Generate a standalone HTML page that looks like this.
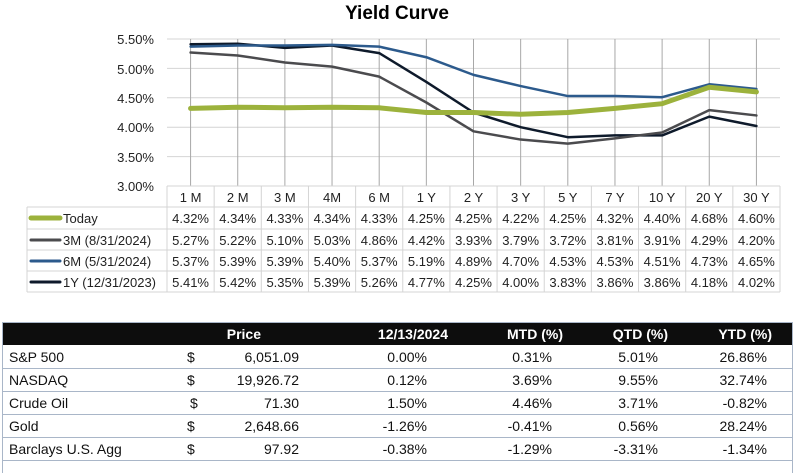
<!DOCTYPE html>
<html><head><meta charset="utf-8"><style>
body{margin:0;width:794px;height:466px;overflow:hidden;background:#fff;font-family:"Liberation Sans",sans-serif;position:relative}
.a{position:absolute;white-space:nowrap}
</style></head><body>
<svg width="794" height="466" style="position:absolute;left:0;top:0" font-family="Liberation Sans, sans-serif">
<text x="397" y="19" text-anchor="middle" font-size="19" font-weight="bold" fill="#000">Yield Curve</text>
<g stroke="#d4d4d4" stroke-width="1">
<line x1="167" x2="780" y1="39" y2="39"/><line x1="167" x2="780" y1="68.4" y2="68.4"/><line x1="167" x2="780" y1="97.8" y2="97.8"/><line x1="167" x2="780" y1="127.2" y2="127.2"/><line x1="167" x2="780" y1="156.6" y2="156.6"/>
</g>
<g fill="#222" font-size="13" text-anchor="end">
<text x="154" y="44">5.50%</text><text x="154" y="74">5.00%</text><text x="154" y="103">4.50%</text><text x="154" y="132">4.00%</text><text x="154" y="162">3.50%</text><text x="154" y="191">3.00%</text>
</g>
<g stroke="#a8a8a8" stroke-width="1" id="vl"></g>
<g id="tbl" stroke="#d4d4d4" stroke-width="1" fill="none"></g>
<g id="ser" fill="none" stroke-linejoin="round" stroke-linecap="round"></g>
<g id="txt" font-size="13" fill="#222"></g>
</svg>
<script>
var cats=["1 M","2 M","3 M","4M","6 M","1 Y","2 Y","3 Y","5 Y","7 Y","10 Y","20 Y","30 Y"];
var S=[["Today","#9cb23c",5,[4.32,4.34,4.33,4.34,4.33,4.25,4.25,4.22,4.25,4.32,4.40,4.68,4.60]],
["3M (8/31/2024)","#4b4b4e",2.5,[5.27,5.22,5.10,5.03,4.86,4.42,3.93,3.79,3.72,3.81,3.91,4.29,4.20]],
["6M (5/31/2024)","#2c5a8c",2.5,[5.37,5.39,5.39,5.40,5.37,5.19,4.89,4.70,4.53,4.53,4.51,4.73,4.65]],
["1Y (12/31/2023)","#0e1a2b",2.5,[5.41,5.42,5.35,5.39,5.26,4.77,4.25,4.00,3.83,3.86,3.86,4.18,4.02]]];
var x0=167,w=(780-167)/13,ns="http://www.w3.org/2000/svg";
function el(p,t,a,tx){var e=document.createElementNS(ns,t);for(var k in a)e.setAttribute(k,a[k]);if(tx)e.textContent=tx;document.getElementById(p).appendChild(e);}
function X(i){return x0+w*(i+.5)}function Y(v){return 39+(5.5-v)*58.8}
for(var i=0;i<13;i++)el("vl","line",{x1:X(i),x2:X(i),y1:39,y2:186});
var rows=[186,207,229,250,271,292];
rows.forEach(function(y,j){el("tbl","line",{x1:j==0?167:27,x2:780,y1:y,y2:y});});
for(var i=0;i<=13;i++)el("tbl","line",{x1:x0+w*i,x2:x0+w*i,y1:186,y2:292});
el("tbl","line",{x1:27,x2:27,y1:207,y2:292});
[3,2,1,0].forEach(function(k){var s=S[k];el("ser","polyline",{points:s[3].map(function(v,i){return X(i)+","+Y(v)}).join(" "),stroke:s[1],"stroke-width":s[2]});});
cats.forEach(function(c,i){el("txt","text",{x:X(i),y:202,"text-anchor":"middle"},c);});
S.forEach(function(s,j){var y=rows[j+1]+16;
el("ser","line",{x1:31,x2:60,y1:y-5,y2:y-5,stroke:s[1],"stroke-width":j==0?5:3});
el("txt","text",{x:63,y:y},s[0]);
s[3].forEach(function(v,i){el("txt","text",{x:X(i),y:y,"text-anchor":"middle"},v.toFixed(2)+"%");});});
</script>
<div class="a" style="left:2px;top:322px;width:790px;height:23px;background:#0d0d0d"></div>
<div style="position:absolute;left:2px;top:322px;width:789px;height:150px;border:1px solid #a9b6c8;border-bottom:none"></div>
<div id="bt"></div>
<script>
var H=[["Price",261],["12/13/2024",448],["MTD (%)",563],["QTD (%)",668],["YTD (%)",772]];
var h="";H.forEach(function(a){h+='<div class="a" style="right:'+(794-a[1])+'px;top:326px;font-size:14px;font-weight:bold;color:#fff">'+a[0]+'</div>';});
var R=[["S&amp;P 500",187,"6,051.09","0.00%","0.31%","5.01%","26.86%"],["NASDAQ",187,"19,926.72","0.12%","3.69%","9.55%","32.74%"],["Crude Oil",190,"71.30","1.50%","4.46%","3.71%","-0.82%"],["Gold",187,"2,648.66","-1.26%","-0.41%","0.56%","28.24%"],["Barclays U.S. Agg",187,"97.92","-0.38%","-1.29%","-3.31%","-1.34%"]];
var rt=[299,427,552,658,767];
R.forEach(function(r,j){var t=345+j*23;
h+='<div class="a" style="left:2px;top:'+(t+23)+'px;width:790px;border-top:1px solid #a9b6c8"></div>';
var st='top:'+(t+4)+'px;font-size:14px;color:#111;';
h+='<div class="a" style="left:9px;'+st+'">'+r[0]+'</div><div class="a" style="left:'+r[1]+'px;'+st+'">$</div>';
for(var k=0;k<5;k++)h+='<div class="a" style="right:'+(794-rt[k])+'px;'+st+'">'+r[k+2]+'</div>';});
document.getElementById("bt").innerHTML=h;
</script>
</body></html>
